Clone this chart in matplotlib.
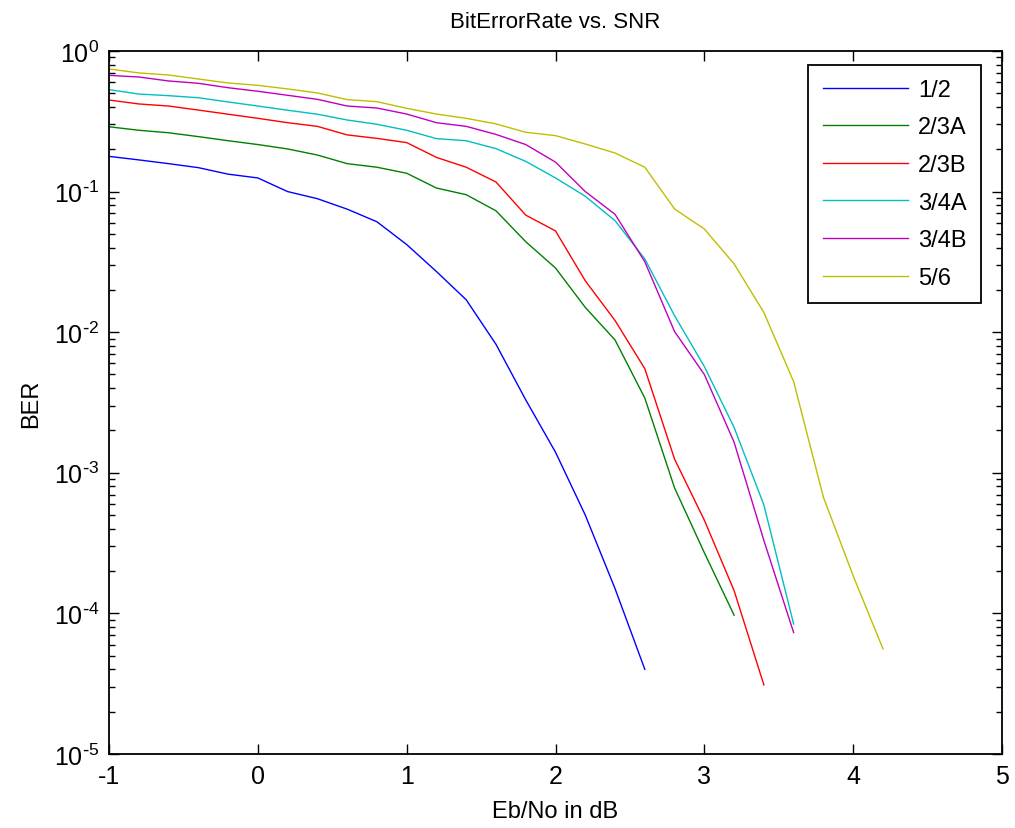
import numpy as np
import matplotlib
matplotlib.use('Agg')
import matplotlib.pyplot as plt

plt.rcParams['font.family'] = ['Liberation Sans', 'DejaVu Sans']
plt.rcParams['axes.unicode_minus'] = False

# BER curves, Eb/No step 0.2 dB starting at -1
snr_12 = [-1.0, -0.8, -0.6, -0.4, -0.2, 0.0, 0.2, 0.4, 0.6, 0.8, 1.0, 1.2, 1.4, 1.6, 1.8, 2.0, 2.2, 2.4, 2.6]
ber_12 = [0.178, 0.168, 0.158, 0.148, 0.133, 0.125, 0.100, 0.089, 0.075, 0.061, 0.042, 0.027, 0.017,
          0.0082, 0.0033, 0.0014, 0.00050, 0.00015, 0.00004]

snr_23a = [-1.0, -0.8, -0.6, -0.4, -0.2, 0.0, 0.2, 0.4, 0.6, 0.8, 1.0, 1.2, 1.4, 1.6, 1.8, 2.0, 2.2, 2.4,
           2.6, 2.8, 3.0, 3.2]
ber_23a = [0.289, 0.273, 0.262, 0.246, 0.230, 0.216, 0.201, 0.182, 0.158, 0.149, 0.135, 0.106, 0.095,
           0.073, 0.044, 0.0286, 0.0150, 0.0088, 0.0034, 0.00078, 0.00027, 0.000097]

snr_23b = [-1.0, -0.8, -0.6, -0.4, -0.2, 0.0, 0.2, 0.4, 0.6, 0.8, 1.0, 1.2, 1.4, 1.6, 1.8, 2.0, 2.2, 2.4,
           2.6, 2.8, 3.0, 3.2, 3.4]
ber_23b = [0.448, 0.420, 0.406, 0.380, 0.355, 0.332, 0.309, 0.291, 0.253, 0.239, 0.223, 0.175, 0.149,
           0.117, 0.068, 0.0525, 0.0232, 0.0121, 0.0055, 0.00125, 0.00046, 0.000145, 0.000031]

snr_34a = [-1.0, -0.8, -0.6, -0.4, -0.2, 0.0, 0.2, 0.4, 0.6, 0.8, 1.0, 1.2, 1.4, 1.6, 1.8, 2.0, 2.2, 2.4,
           2.6, 2.8, 3.0, 3.2, 3.4, 3.6]
ber_34a = [0.531, 0.494, 0.481, 0.465, 0.434, 0.406, 0.379, 0.355, 0.323, 0.301, 0.273, 0.238, 0.230,
           0.202, 0.164, 0.125, 0.0926, 0.0621, 0.0332, 0.0131, 0.0057, 0.0021, 0.00059, 0.000084]

snr_34b = snr_34a
ber_34b = [0.671, 0.653, 0.612, 0.589, 0.548, 0.517, 0.484, 0.453, 0.406, 0.393, 0.356, 0.309, 0.291,
           0.255, 0.216, 0.162, 0.100, 0.0689, 0.0317, 0.0101, 0.0050, 0.00165, 0.00033, 0.000073]

snr_56 = [-1.0, -0.8, -0.6, -0.4, -0.2, 0.0, 0.2, 0.4, 0.6, 0.8, 1.0, 1.2, 1.4, 1.6, 1.8, 2.0, 2.2, 2.4,
          2.6, 2.8, 3.0, 3.2, 3.4, 3.6, 3.8, 4.0, 4.2]
ber_56 = [0.745, 0.698, 0.675, 0.632, 0.592, 0.570, 0.537, 0.503, 0.451, 0.436, 0.391, 0.356, 0.332,
          0.303, 0.264, 0.250, 0.218, 0.188, 0.149, 0.0752, 0.0542, 0.0306, 0.0138, 0.00445, 0.00067,
          0.000185, 0.000056]

labels = ['1/2', '2/3A', '2/3B', '3/4A', '3/4B', '5/6']
colors = ['#0000ff', '#008000', '#ff0000', '#00bfbf', '#bf00bf', '#bfbf00']
xticks = [-1, 0, 1, 2, 3, 4, 5]
yticks = [1e-5, 1e-4, 1e-3, 1e-2, 1e-1, 1e0]
ytick_labels = [r'$\mathregular{10^{\text{-}5}}$', r'$\mathregular{10^{\text{-}4}}$',
                r'$\mathregular{10^{\text{-}3}}$', r'$\mathregular{10^{\text{-}2}}$',
                r'$\mathregular{10^{\text{-}1}}$', r'$\mathregular{10^{0}}$']

fig = plt.figure(figsize=(10.15, 8.29), dpi=100)
ax = fig.add_axes([0.1074, 0.0893, 0.8798, 0.848])

series = [(snr_12, ber_12), (snr_23a, ber_23a), (snr_23b, ber_23b),
          (snr_34a, ber_34a), (snr_34b, ber_34b), (snr_56, ber_56)]
for (x, y), lab, c in zip(series, labels, colors):
    ax.semilogy(x, y, color=c, lw=1.0, label=lab)

ax.set_xlim(-1, 5)
ax.set_ylim(1e-5, 1)
ax.set_xticks(xticks)
ax.set_xticklabels([str(t) for t in xticks])
ax.set_yticks(yticks)
ax.set_yticklabels(ytick_labels)

ax.tick_params(which='both', direction='in', top=True, right=True, labelsize=18, width=1.0)
ax.tick_params(which='major', length=7, pad=7)
ax.tick_params(which='minor', length=4)
for s in ax.spines.values():
    s.set_linewidth(1.3)

ax.set_title('BitErrorRate vs. SNR', fontsize=16, pad=17)
ax.set_xlabel('Eb/No in dB', fontsize=17, labelpad=9)
ax.set_ylabel('BER', fontsize=17, labelpad=8)

leg = ax.legend(loc='upper right', bbox_to_anchor=(0.9665, 0.9207), bbox_transform=fig.transFigure,
                borderaxespad=0, fontsize=17, handlelength=3.6, handletextpad=0.45,
                labelspacing=0.66, fancybox=False, framealpha=1, edgecolor='black',
                borderpad=0.6)
leg.get_frame().set_linewidth(1.3)

fig.savefig('out.png', dpi=100)
